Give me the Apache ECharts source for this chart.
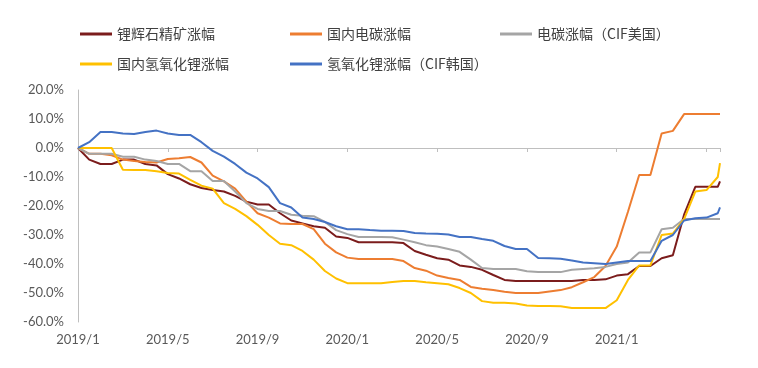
<!DOCTYPE html>
<html>
<head>
<meta charset="utf-8">
<script src="https://cdn.jsdelivr.net/npm/echarts@6/dist/echarts.min.js"></script>
<style>
html,body{margin:0;padding:0;background:#fff;}
#chart{width:758px;height:368px;}
</style>
</head>
<body>
<div id="chart"></div>
<script>
// Half-monthly observation dates
var dates = [
  "2019-01-01","2019-01-16","2019-02-01","2019-02-16","2019-03-01","2019-03-16","2019-04-01","2019-04-16",
  "2019-05-01","2019-05-16","2019-06-01","2019-06-16","2019-07-01","2019-07-16","2019-08-01","2019-08-16",
  "2019-09-01","2019-09-16","2019-10-01","2019-10-16","2019-11-01","2019-11-16","2019-12-01","2019-12-16",
  "2020-01-01","2020-01-16","2020-02-01","2020-02-16","2020-03-01","2020-03-16","2020-04-01","2020-04-16",
  "2020-05-01","2020-05-16","2020-06-01","2020-06-16","2020-07-01","2020-07-16","2020-08-01","2020-08-16",
  "2020-09-01","2020-09-16","2020-10-01","2020-10-16","2020-11-01","2020-11-16","2020-12-01","2020-12-16",
  "2021-01-01","2021-01-16","2021-02-01","2021-02-16","2021-03-01","2021-03-16","2021-04-01","2021-04-16",
  "2021-05-01","2021-05-16","2021-05-19"
];

var seriesNames = ["锂辉石精矿涨幅","国内电碳涨幅","电碳涨幅（CIF美国）","国内氢氧化锂涨幅","氢氧化锂涨幅（CIF韩国）"];

var spodumene = [0,-4,-5.5,-5.5,-4,-4,-5.5,-6,-9,-10.5,-12.5,-13.8,-14.5,-15,-16.5,-18.5,-19.5,
  -19.5,-22.5,-25,-26,-27,-27.5,-30.5,-31,-32.5,-32.5,-32.5,-32.5,-32.8,-35.5,-36.8,
  -38,-38.5,-40.5,-41,-42,-43.8,-45.5,-45.9,-45.9,-45.9,-45.9,-45.9,-45.9,-45.5,-45.5,-45.3,
  -44,-43.5,-40.7,-40.7,-38,-37,-23,-13.4,-13.4,-13.4,-11.5];

var domesticCarbonate = [0,-2,-2,-2.5,-4,-4.5,-4.8,-5,-3.8,-3.5,-3.1,-5,-9.5,-11.5,-14,-18.5,-22.5,
  -24,-26,-26.2,-26.2,-28,-33,-36,-37.8,-38.3,-38.3,-38.3,-38.3,-39,-41.4,-42.3,
  -44,-44.8,-45.5,-47.9,-48.5,-49,-49.6,-50,-50,-50,-49.5,-49,-48,-46.3,-44.5,-40.7,
  -34,-22,-9.3,-9.3,5,5.9,11.7,11.7,11.7,11.7,11.7];

var cifUsCarbonate = [0,-2,-2,-2,-3,-3,-4,-4.5,-5.5,-5.5,-8,-8,-11.4,-11.4,-15,-19,-21,
  -21.7,-21.7,-23,-23.4,-23.5,-25.5,-28.3,-29.7,-30.7,-30.7,-30.7,-30.8,-31.6,-32.5,-33.5,
  -34,-34.8,-35.8,-38.5,-41.4,-41.7,-41.7,-41.7,-42.5,-42.8,-42.8,-42.8,-42,-41.7,-41.5,-41,
  -40,-39.5,-36,-36,-28,-27.5,-24.5,-24.5,-24.5,-24.5,-24.5];

var domesticHydroxide = [0,0,0,0,-7.5,-7.6,-7.6,-8,-8.6,-8.8,-11,-13,-14,-19,-21,-23.5,-26.5,
  -30,-33,-33.5,-35.5,-38.5,-42.4,-45,-46.6,-46.6,-46.6,-46.6,-46.2,-45.9,-45.9,-46.3,
  -46.6,-47,-48.3,-50,-52.8,-53.4,-53.4,-53.6,-54.3,-54.5,-54.5,-54.6,-55.2,-55.2,-55.2,-55.2,
  -52.5,-45.5,-40.5,-40.5,-30,-29.5,-24.5,-15,-14.5,-10,-5.2];

var cifKoreaHydroxide = [0,2,5.5,5.5,5,4.8,5.5,6,5,4.5,4.5,2,-1,-3,-5.5,-8.5,-10.5,
  -13.5,-19,-20.5,-24,-24.5,-25.5,-27,-28,-28,-28.3,-28.5,-28.5,-28.6,-29.3,-29.5,
  -29.6,-29.8,-30.7,-30.7,-31.4,-32,-33.8,-34.8,-34.8,-37.9,-38,-38.2,-38.8,-39.5,-39.7,-40,
  -39.5,-39,-39,-39,-32,-30,-25,-24.2,-24,-22.5,-20.5];

var yTicks = [-60,-50,-40,-30,-20,-10,0,10,20];
var xTickLabels = ["2019/1","2019/5","2019/9","2020/1","2020/5","2020/9","2021/1"];

var colors = ["#7B1C1C","#ED7D31","#A5A5A5","#FFC000","#4472C4"];
var allValues = [spodumene, domesticCarbonate, cifUsCarbonate, domesticHydroxide, cifKoreaHydroxide];

function monthOffset(d){
  var p = d.split("-");
  return (parseInt(p[0],10)-2019)*12 + (parseInt(p[1],10)-1) + (parseInt(p[2],10)-1)/30;
}
var xs = dates.map(monthOffset);

var series = allValues.map(function(vals, k){
  return {
    name: seriesNames[k],
    type: 'line',
    xAxisIndex: 0,
    data: vals.map(function(v,i){ return [xs[i], v]; }),
    showSymbol: false,
    symbol: 'none',
    lineStyle: {width: 2, color: colors[k]},
    itemStyle: {color: colors[k]},
    z: 2 + k,
    animation: false
  };
});

var legendPos = [[75,22],[285,22],[495,22],[75,52],[285,52]];
var legends = seriesNames.map(function(n,k){
  return {
    data: [n],
    left: legendPos[k][0],
    top: legendPos[k][1],
    icon: 'rect',
    itemWidth: 32,
    itemHeight: 3,
    itemGap: 0,
    textStyle: {fontFamily: '"Noto Sans CJK SC"', fontSize: 14, color: '#404040'},
    selectedMode: false
  };
});

var xMax = xs[xs.length-1];

var chart = echarts.init(document.getElementById('chart'), null, {renderer:'canvas'});
chart.setOption({
  animation: false,
  backgroundColor: '#ffffff',
  color: colors,
  legend: legends,
  grid: {left: 78, right: 38, top: 90, bottom: 46, containLabel: false},
  xAxis: [
    {
      type: 'value', position: 'bottom', min: 0, max: xMax, interval: 4,
      axisLine: {show: false, onZero: false},
      axisTick: {show: false},
      splitLine: {show: false},
      axisLabel: {
        margin: 11, color: '#595959', fontFamily: 'Lato', fontSize: 13,
        formatter: function(v){
          var idx = Math.round(v/4);
          return (Math.abs(v - idx*4) < 1e-6 && idx < xTickLabels.length) ? xTickLabels[idx] : '';
        }
      }
    },
    {
      type: 'value', position: 'top', min: 0, max: xMax, interval: 4,
      axisLine: {show: true, onZero: true, lineStyle: {color: '#BFBFBF', width: 1}},
      axisTick: {show: true, inside: true, length: 4, lineStyle: {color: '#BFBFBF'}},
      axisLabel: {show: false},
      splitLine: {show: false}
    }
  ],
  yAxis: {
    type: 'value', min: yTicks[0], max: yTicks[yTicks.length-1], interval: 10,
    axisLine: {show: true, lineStyle: {color: '#BFBFBF', width: 1}},
    axisTick: {show: false},
    splitLine: {show: false},
    axisLabel: {
      margin: 14, color: '#595959', fontFamily: 'Lato', fontSize: 13,
      formatter: function(v){ return v.toFixed(1) + '%'; }
    }
  },
  series: series
});
</script>
</body>
</html>
